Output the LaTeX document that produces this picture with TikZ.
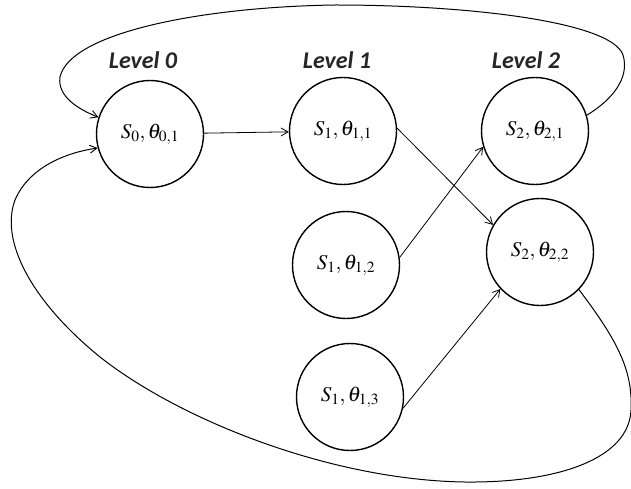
\documentclass[tikz,border=0pt]{standalone}
\usepackage{mathptmx}
\usepackage{fontspec}
\newfontfamily\levelfont{Carlito}
\usetikzlibrary{arrows.meta}
\tikzset{
  state/.style={circle, draw, line width=1.4pt, minimum size=107pt, inner sep=0pt,
    font=\fontsize{21}{24}\selectfont},
  levellabel/.style={font=\levelfont\bfseries\itshape\fontsize{24}{27}\selectfont, text=black!85},
  link/.style={line width=0.8pt, -{Straight Barb[length=7pt,width=8pt,line width=0.8pt]}},
  loopline/.style={line width=1pt, -{Straight Barb[length=7pt,width=8pt,line width=0.9pt]}}
}
\begin{document}
\begin{tikzpicture}[x=1pt,y=-1pt]
\useasboundingbox (0,0) rectangle (631,489);

% level headings
\node[levellabel] (l0) at (143,60) {Level 0};
\node[levellabel] (l1) at (337,60) {Level 1};
\node[levellabel] (l2) at (526,60) {Level 2};

% states
\node[state] (s0)  at (150,134) {$S_0,\theta_{0,1}$};
\node[state] (s11) at (343,131) {$S_1,\theta_{1,1}$};
\node[state] (s21) at (535,131) {$S_2,\theta_{2,1}$};
\node[state] (s12) at (346,265) {$S_1,\theta_{1,2}$};
\node[state] (s22) at (540,252) {$S_2,\theta_{2,2}$};
\node[state] (s13) at (350,397) {$S_1,\theta_{1,3}$};

% transitions between levels
\draw[link] (s0) -- (s11);
\draw[link] (s11.3) -- (s22.150);
\draw[link] (s12.8) -- (s21.197);
\draw[link] (s13.-12) -- (s22.223);

% return from level 2 to level 0 over the top
\draw[loopline] (s21.17)
  .. controls (612,100) and (630,78) .. (623,55)
  .. controls (612,22) and (470,5) .. (335,5)
  .. controls (200,7) and (70,33) .. (60,77)
  .. controls (57,97) and (80,110) .. (s0.162);

% return from level 2 to level 0 round the bottom
\draw[loopline] (s22.-44)
  .. controls (617,340) and (633,370) .. (631,410)
  .. controls (629,458) and (560,483) .. (465,482)
  .. controls (330,480) and (180,420) .. (100,357)
  .. controls (30,300) and (0,240) .. (15,200)
  .. controls (30,165) and (70,152) .. (s0.195);
\end{tikzpicture}
\end{document}
